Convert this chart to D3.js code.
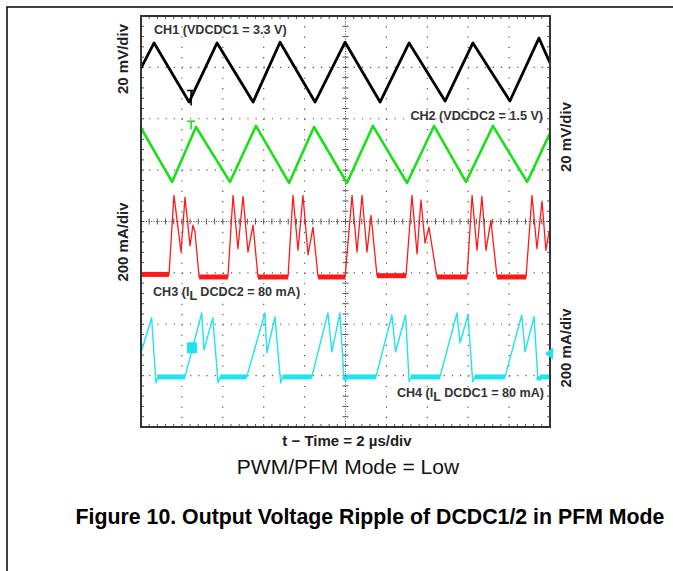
<!DOCTYPE html>
<html>
<head>
<meta charset="utf-8">
<style>
  body { margin: 0; background: #fff; }
  text { font-family: Arial, "Liberation Sans", sans-serif; }
</style>
</head>
<body>
<script src="https://cdn.jsdelivr.net/npm/d3@7/dist/d3.min.js"></script>
<script>

// time base: 2 us/div, 10 divisions across
var timeRange = [0, 20];
var divRange = [-4, 4];

// CH1 - VDCDC1 ripple (mV), 20 mV/div
var ch1Time = [0, 0.64, 2.35, 3.72, 5.48, 6.80, 8.51, 9.98, 11.69, 13.11, 14.87, 16.23, 18.04, 19.46, 20];
var ch1Val  = [-0.3, 9.5, -13.5, 9.5, -13.5, 9.8, -13.5, 9.8, -13.5, 9.5, -13.1, 9.5, -13.1, 11.4, 1.7];

// CH2 - VDCDC2 ripple (mV), 20 mV/div
var ch2Time = [0, 1.52, 2.69, 4.35, 5.62, 7.24, 8.46, 10.07, 11.34, 13.01, 14.33, 15.89, 17.21, 18.88, 20];
var ch2Val  = [10.4, -10.6, 10.8, -10.6, 11.2, -11.0, 10.8, -11.0, 11.2, -11.0, 11.2, -10.6, 11.2, -10.6, 8.4];

// CH3 - inductor current DCDC2 (mA), 200 mA/div
var ch3Time = [0, 1.37, 1.61, 1.96, 2.15, 2.40, 2.54, 2.64, 2.84,
  4.25, 4.50, 4.74, 4.99, 5.23, 5.48, 5.72,
  7.19, 7.43, 7.68, 7.92, 8.17, 8.41, 8.66,
  9.98, 10.32, 10.56, 10.81, 11.05, 11.25, 11.54,
  12.96, 13.25, 13.50, 13.69, 13.89, 14.08, 14.47,
  15.94, 16.19, 16.43, 16.67, 16.87, 17.11, 17.41,
  18.83, 19.12, 19.36, 19.61, 19.80, 19.95];
var ch3Val = [0, 0, 308, 87, 300, 111, 192, 165, -10,
  -10, 308, 100, 304, 87, 192, -10,
  -10, 308, 94, 308, 76, 184, -10,
  -10, 308, 87, 308, 87, 230, -5,
  -5, 308, 80, 290, 122, 184, -10,
  -10, 308, 94, 304, 94, 210, -10,
  -10, 308, 100, 285, 94, 165];

// CH4 - inductor current DCDC1 (mA), 200 mA/div
var ch4Time = [0, 0.52, 0.73, 0.83, 2.15, 2.97, 3.08, 3.51, 3.77, 3.87,
  5.17, 6.06, 6.16, 6.55, 6.83, 6.93,
  8.35, 9.14, 9.33, 9.73, 9.93, 10.03,
  11.49, 12.27, 12.45, 12.94, 13.11, 13.21,
  14.62, 15.45, 15.60, 15.99, 16.22, 16.32,
  17.80, 18.62, 18.78, 19.22, 19.41, 19.51, 19.95];
var ch4Val = [94, 230, -23, 0, 0, 249, 105, 230, -23, 0,
  0, 249, 94, 234, -23, 0,
  0, 249, 98, 249, -12, 0,
  0, 241, 98, 241, -19, 0,
  0, 249, 132, 241, -19, 0,
  0, 241, 98, 234, -12, 0, 0];

// screen position (div) and volts-or-amps per div of each channel
var chNames  = ["CH1", "CH2", "CH3", "CH4"];
var chPos    = [3, 1.3, -1.03, -3.025];
var chPerDiv = [20, 20, 200, 200];
var chColor  = ["#000000", "#19e019", "#ff1a1a", "#1ee3f0"];

var plot = {left: 141, top: 16, right: 550, bottom: 427};

var svg = d3.select("body").append("svg")
  .attr("width", 673)
  .attr("height", 571);

// page frame
svg.append("path")
  .attr("d", "M7,571 V7 H673")
  .attr("fill", "none")
  .attr("stroke", "#000")
  .attr("stroke-width", 1.5);

var x = d3.scaleLinear().domain(timeRange).range([plot.left, plot.right]);
var y = d3.scaleLinear().domain(divRange).range([plot.bottom, plot.top]);
var xDiv = d3.scaleLinear().domain([0, 10]).range([plot.left, plot.right]);

var grid = svg.append("g").attr("class", "grid");

// dotted division lines
grid.selectAll(".vline")
  .data(d3.range(1, 10).filter(function(d) { return d != 5; }))
  .enter().append("line")
  .attr("x1", function(d) { return xDiv(d); })
  .attr("x2", function(d) { return xDiv(d); })
  .attr("y1", plot.top)
  .attr("y2", plot.bottom)
  .attr("stroke", "#555")
  .attr("stroke-width", 1.2)
  .attr("stroke-dasharray", "1.2," + ((plot.bottom - plot.top) / 40 - 1.2));

grid.selectAll(".hline")
  .data(d3.range(-3, 4).filter(function(d) { return d != 0; }))
  .enter().append("line")
  .attr("x1", plot.left)
  .attr("x2", plot.right)
  .attr("y1", function(d) { return y(d); })
  .attr("y2", function(d) { return y(d); })
  .attr("stroke", "#555")
  .attr("stroke-width", 1.2)
  .attr("stroke-dasharray", "1.2," + ((plot.right - plot.left) / 50 - 1.2));

// center cross
grid.append("line")
  .attr("x1", xDiv(5)).attr("x2", xDiv(5))
  .attr("y1", plot.top).attr("y2", plot.bottom)
  .attr("stroke", "#555").attr("stroke-dasharray", "1,1.5");
grid.append("line")
  .attr("x1", plot.left).attr("x2", plot.right)
  .attr("y1", y(0)).attr("y2", y(0))
  .attr("stroke", "#555").attr("stroke-dasharray", "1,1.5");

var xMinor = d3.range(1, 50).map(function(d) { return d / 5; });
var yMinor = d3.range(-19, 20).map(function(d) { return d / 5; });

grid.selectAll(".cx").data(yMinor).enter().append("line")
  .attr("x1", xDiv(5) - 3).attr("x2", xDiv(5) + 3)
  .attr("y1", function(d) { return y(d); }).attr("y2", function(d) { return y(d); })
  .attr("stroke", "#555");
grid.selectAll(".cy").data(xMinor).enter().append("line")
  .attr("y1", y(0) - 3).attr("y2", y(0) + 3)
  .attr("x1", function(d) { return xDiv(d); }).attr("x2", function(d) { return xDiv(d); })
  .attr("stroke", "#555");

// edge ticks
[plot.top, plot.bottom].forEach(function(e, i) {
  grid.selectAll(".et" + i).data(xMinor).enter().append("line")
    .attr("x1", function(d) { return xDiv(d); }).attr("x2", function(d) { return xDiv(d); })
    .attr("y1", e).attr("y2", e + (i ? -3 : 3))
    .attr("stroke", "#555");
});
[plot.left, plot.right].forEach(function(e, i) {
  grid.selectAll(".es" + i).data(yMinor).enter().append("line")
    .attr("y1", function(d) { return y(d); }).attr("y2", function(d) { return y(d); })
    .attr("x1", e).attr("x2", e + (i ? -3 : 3))
    .attr("stroke", "#555");
});

// traces
var times = [ch1Time, ch2Time, ch3Time, ch4Time];
var vals = [ch1Val, ch2Val, ch3Val, ch4Val];
var widths = [2.8, 2.6, 1.3, 1.4];

var traces = svg.append("g");

chNames.forEach(function(name, c) {
  var pts = times[c].map(function(t, i) { return [t, vals[c][i]]; });
  var line = d3.line()
    .x(function(d) { return x(d[0]); })
    .y(function(d) { return y(chPos[c] + d[1] / chPerDiv[c]); });

  // noisy idle floor on the current channels
  if (c >= 2) {
    var floors = [];
    for (var i = 0; i < pts.length - 1; i++) {
      if (Math.abs(pts[i][1]) <= 12 && Math.abs(pts[i + 1][1]) <= 12) floors.push([pts[i], pts[i + 1]]);
    }
    traces.selectAll(".floor" + c).data(floors).enter().append("path")
      .attr("d", line)
      .attr("fill", "none")
      .attr("stroke", chColor[c])
      .attr("stroke-width", 5);
  }

  traces.append("path")
    .datum(pts)
    .attr("d", line)
    .attr("fill", "none")
    .attr("stroke", chColor[c])
    .attr("stroke-width", widths[c])
    .attr("stroke-linejoin", "round");
});

// trigger / level markers
var markerTime = [2.45, 2.45];
var markerDiv = [2.55, 1.95];
svg.selectAll(".tmark").data([0, 1]).enter().append("path")
  .attr("d", function(c) {
    var mx = x(markerTime[c]), my = y(markerDiv[c]);
    return "M" + (mx - 4) + "," + my + "H" + (mx + 4) + "M" + mx + "," + my + "V" + (my + (c ? 8 : 15));
  })
  .attr("fill", "none")
  .attr("stroke", function(c) { return chColor[c]; })
  .attr("stroke-width", 1.6);

svg.append("rect")
  .attr("x", x(2.25)).attr("y", y(-2.35))
  .attr("width", 10).attr("height", 11)
  .attr("fill", chColor[3]);

// plot border
svg.append("rect")
  .attr("x", plot.left).attr("y", plot.top)
  .attr("width", plot.right - plot.left).attr("height", plot.bottom - plot.top)
  .attr("fill", "none")
  .attr("stroke", "#333")
  .attr("stroke-width", 2);

svg.append("path")
  .attr("d", "M" + (x(20) - 5) + "," + y(-2.57) + "l8,-6v12z")
  .attr("fill", chColor[3]);

// channel labels
var lab = svg.append("g")
  .attr("fill", "#333")
  .style("font-weight", "bold")
  .style("font-size", "12.6px");

lab.append("text").attr("x", 154).attr("y", 34).text("CH1 (VDCDC1 = 3.3 V)");
lab.append("text").attr("x", 543).attr("y", 120).attr("text-anchor", "end").text("CH2 (VDCDC2 = 1.5 V)");

var t3 = lab.append("text").attr("x", 153).attr("y", 296);
t3.append("tspan").text("CH3 (I");
t3.append("tspan").attr("dy", 4).text("L");
t3.append("tspan").attr("dy", -4).text(" DCDC2 = 80 mA)");

var t4 = lab.append("text").attr("x", 544).attr("y", 397).attr("text-anchor", "end");
t4.append("tspan").text("CH4 (I");
t4.append("tspan").attr("dy", 4).text("L");
t4.append("tspan").attr("dy", -4).text(" DCDC1 = 80 mA)");

// scale labels (rotated)
var scaleLabels = [
  {text: "20 mV/div", x: 128, y: 59},
  {text: "200 mA/div", x: 128, y: 242},
  {text: "20 mV/div", x: 571, y: 137},
  {text: "200 mA/div", x: 571, y: 348}
];
svg.selectAll(".slabel").data(scaleLabels).enter().append("text")
  .attr("transform", function(d) { return "translate(" + d.x + "," + d.y + ") rotate(-90)"; })
  .attr("text-anchor", "middle")
  .style("font-weight", "bold")
  .style("font-size", "15px")
  .attr("fill", "#222")
  .text(function(d) { return d.text; });

svg.append("text")
  .attr("x", 347).attr("y", 446)
  .attr("text-anchor", "middle")
  .style("font-weight", "bold")
  .style("font-size", "15px")
  .attr("fill", "#222")
  .text("t \u2212 Time = 2 \u00b5s/div");

svg.append("text")
  .attr("x", 348).attr("y", 474)
  .attr("text-anchor", "middle")
  .style("font-size", "21px")
  .attr("fill", "#111")
  .text("PWM/PFM Mode = Low");

svg.append("text")
  .attr("x", 370).attr("y", 524)
  .attr("text-anchor", "middle")
  .style("font-weight", "bold")
  .style("font-size", "21.3px")
  .attr("fill", "#000")
  .text("Figure 10. Output Voltage Ripple of DCDC1/2 in PFM Mode");

</script>
</body>
</html>
